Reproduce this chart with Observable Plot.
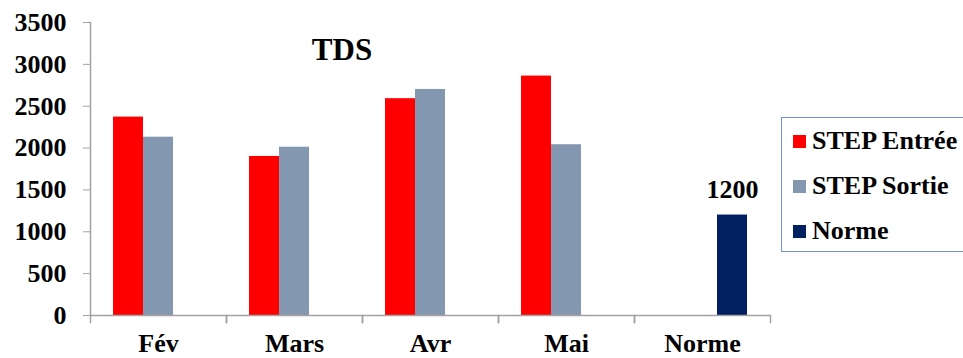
<!DOCTYPE html>
<html>
<head>
<meta charset="utf-8">
<script src="https://cdn.jsdelivr.net/npm/d3@7"></script>
<script src="https://cdn.jsdelivr.net/npm/@observablehq/plot@0.6"></script>
<style>
  html, body { margin: 0; padding: 0; background: #fff; }
  #wrap { position: relative; width: 963px; height: 358px; overflow: hidden; font-family: "Liberation Serif", "Times New Roman", serif; font-weight: bold; }
  #title { position: absolute; left: 342px; top: 58px; transform: translate(-50%, -78%); font-size: 31px; line-height: 1; white-space: nowrap; }
  #legend { position: absolute; left: 781px; top: 117px; width: 200px; height: 135px; border: 1.5px solid #6f93d3; box-sizing: border-box; }
  .item { position: absolute; left: 11px; display: flex; align-items: center; font-size: 26px; line-height: 1; white-space: nowrap; }
  .sw { width: 13px; height: 13px; margin-right: 6px; flex: none; }
</style>
</head>
<body>
<div id="wrap">
  <div id="chart"></div>
  <div id="title"></div>
  <div id="legend"></div>
</div>
<script>
// Total dissolved solids (TDS) per month, plant inlet vs outlet, with the standard
const title = "TDS";
const months = ["Fév", "Mars", "Avr", "Mai", "Norme"];
const seriesNames = ["STEP Entrée", "STEP Sortie", "Norme"];
const seriesColors = ["#ff0000", "#8497b0", "#002060"];
const entree = [2370, 1900, 2590, 2860, null];
const sortie = [2130, 2010, 2700, 2040, null];
const norme = [null, null, null, null, 1200];
const yTicks = [0, 500, 1000, 1500, 2000, 2500, 3000, 3500];

const columns = [entree, sortie, norme];
const rows = [];
months.forEach((m, i) => {
  seriesNames.forEach((s, j) => {
    const v = columns[j][i];
    if (v != null) rows.push({month: m, series: s, value: v});
  });
});
const labelled = rows.filter(d => d.series === "Norme");

const axisGray = "#a3a3a3";

const plot = Plot.plot({
  width: 963,
  height: 358,
  marginLeft: 88,
  marginRight: 192,
  marginTop: 22,
  marginBottom: 43,
  style: {fontFamily: "'Liberation Serif', 'Times New Roman', serif", fontWeight: "bold", fontSize: "26px", color: "#000", background: "#fff"},
  fx: {domain: months, padding: 0, label: null},
  x: {domain: seriesNames, paddingInner: 0, paddingOuter: 0.74, axis: null},
  y: {domain: [0, 3500], label: null},
  color: {domain: seriesNames, range: seriesColors},
  marks: [
    Plot.barY(rows, {fx: "month", x: "series", y: "value", fill: "series"}),
    Plot.text(labelled, {fx: "month", x: "series", y: "value", text: d => String(d.value), lineAnchor: "bottom", dy: -17, fontSize: 26}),
    Plot.ruleY([0], {stroke: axisGray, strokeWidth: 1.5}),
    // value axis line on the left of the first facet only
    Plot.frame({anchor: "left", facetAnchor: "left", stroke: axisGray, strokeWidth: 1.5}),
    // category separators below the baseline
    Plot.frame({anchor: "left", insetTop: 293, insetBottom: -7, stroke: axisGray, strokeWidth: 1.5}),
    Plot.frame({anchor: "right", insetTop: 293, insetBottom: -7, stroke: axisGray, strokeWidth: 1.5}),
    Plot.axisY(yTicks, {tickSize: 7, tickPadding: 17, stroke: axisGray, fill: "#000", tickFormat: d => String(d), label: null}),
    Plot.axisFx({anchor: "bottom", tickSize: 0, tickPadding: 18, fill: "#000", label: null})
  ]
});
document.getElementById("chart").appendChild(plot);

document.getElementById("title").textContent = title;
const legend = document.getElementById("legend");
const rowTops = [10, 55, 100];
seriesNames.forEach((s, i) => {
  const item = document.createElement("div");
  item.className = "item";
  item.style.top = rowTops[i] + "px";
  const sw = document.createElement("span");
  sw.className = "sw";
  sw.style.background = seriesColors[i];
  const label = document.createElement("span");
  label.textContent = s;
  item.appendChild(sw);
  item.appendChild(label);
  legend.appendChild(item);
});
</script>
</body>
</html>
